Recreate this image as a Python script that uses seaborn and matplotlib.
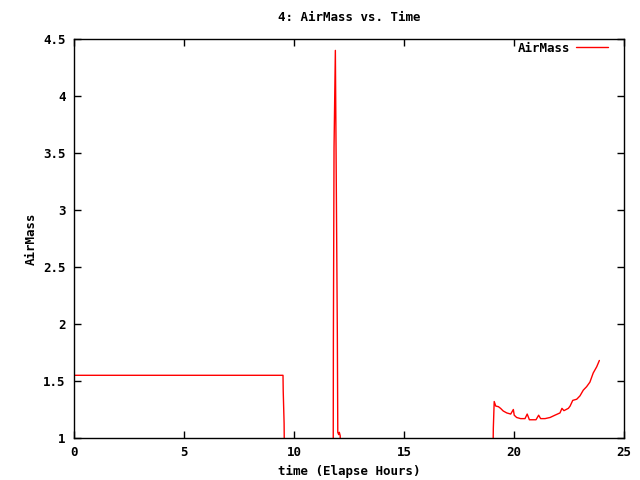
import pandas as pd
import matplotlib
matplotlib.use('Agg')
import matplotlib.pyplot as plt
import seaborn as sns
from matplotlib.ticker import FormatStrFormatter

# Dados (horas decorridas vs. massa de ar)
# valores < 1 ficam fora da faixa do eixo (cortados, como no original)
tempo_h = [0.0, 9.50, 9.51, 9.55, 9.58,
           11.78, 11.79, 11.82, 11.88, 11.91, 11.97, 11.99, 12.03, 12.06, 12.10, 12.17,
           19.02, 19.06, 19.10, 19.17, 19.29, 19.39, 19.51, 19.67, 19.85, 19.97, 20.01,
           20.12, 20.30, 20.50, 20.60, 20.70, 21.00, 21.12, 21.21, 21.41, 21.64, 21.86,
           22.09, 22.18, 22.27, 22.47, 22.55, 22.67, 22.85, 23.00, 23.15, 23.30, 23.45,
           23.60, 23.76, 23.88]
airmass = [1.55, 1.55, 1.41, 1.13, 0.5,
           0.5, 1.85, 3.55, 4.40, 3.58, 1.91, 1.05, 1.03, 1.05, 1.02, 0.5,
           0.5, 1.085, 1.32, 1.28, 1.275, 1.26, 1.237, 1.22, 1.21, 1.25, 1.20,
           1.18, 1.17, 1.17, 1.21, 1.16, 1.16, 1.20, 1.17, 1.17, 1.18, 1.20,
           1.22, 1.26, 1.24, 1.26, 1.28, 1.33, 1.34, 1.37, 1.42, 1.45, 1.49,
           1.57, 1.625, 1.68]

x_ticks = [0, 5, 10, 15, 20, 25]
y_ticks = [1, 1.5, 2, 2.5, 3, 3.5, 4, 4.5]

df = pd.DataFrame({'tempo': tempo_h, 'AirMass': airmass})

sns.set_style('ticks')
plt.rcParams['font.family'] = ['DejaVu Sans Mono', 'DejaVu Sans']
plt.rcParams['font.weight'] = 'bold'
plt.rcParams['font.size'] = 9
plt.rcParams['text.color'] = 'black'
plt.rcParams['axes.labelcolor'] = 'black'

fig = plt.figure(figsize=(6.4, 4.8), dpi=100)
ax = fig.add_axes([74 / 640, 42 / 480, 550 / 640, 399 / 480])

sns.lineplot(data=df, x='tempo', y='AirMass', color='red', linewidth=1,
             sort=False, estimator=None, label='AirMass', ax=ax)

ax.set_xlim(0, 25)
ax.set_ylim(1, 4.5)
ax.set_xticks(x_ticks)
ax.set_yticks(y_ticks)
ax.yaxis.set_major_formatter(FormatStrFormatter('%g'))
ax.xaxis.set_major_formatter(FormatStrFormatter('%g'))
ax.tick_params(direction='in', length=5, width=1, top=True, right=True,
               labelsize=9, colors='black', pad=6)
for s in ax.spines.values():
    s.set_color('black')
    s.set_linewidth(1)

ax.set_title('4: AirMass vs. Time', fontsize=9, fontweight='bold', pad=13, color='black')
ax.set_xlabel('time (Elapse Hours)', fontsize=9, fontweight='bold', labelpad=4)
ax.set_ylabel('AirMass', fontsize=9, fontweight='bold', labelpad=4)

leg = ax.legend(loc='upper right', bbox_to_anchor=(0.971, 0.993), frameon=False,
                markerfirst=False, handlelength=2.6, handletextpad=0.45,
                borderpad=0, borderaxespad=0, fontsize=9)

fig.savefig('out.png', dpi=100)
